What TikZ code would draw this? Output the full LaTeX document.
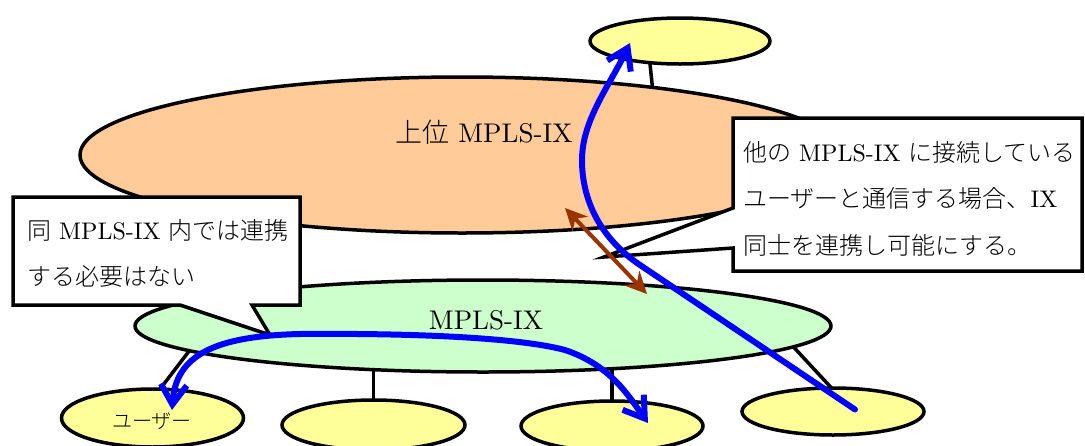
\documentclass[tikz,border=0pt]{standalone}
\usepackage{fontspec}
\setmainfont{lmroman10-regular.otf}
\newfontfamily\jp{Noto Sans CJK JP Light}
\usepackage{tikz}
\usetikzlibrary{positioning}
\usetikzlibrary{arrows.meta,shapes.geometric,backgrounds}

\definecolor{upperfill}{RGB}{255,204,153}
\definecolor{ixfill}{RGB}{204,255,204}
\definecolor{userfill}{RGB}{255,255,153}
\definecolor{relaybrown}{RGB}{153,51,0}

\tikzset{
	net/.style={ellipse, draw, line width=3.5pt, inner sep=0pt},
	user/.style={net, fill=userfill, minimum width=182pt, minimum height=50pt},
	link/.style={line width=3.5pt, shorten <=-8pt, shorten >=-8pt},
	note/.style={draw, fill=white, line width=3.5pt, line join=miter},
	notetext/.style={align=left, inner sep=0pt, font=\fontsize{24}{46.5}\selectfont},
	flow/.style={blue, line width=6pt, line cap=round},
	barb/.style={-{Straight Barb[length=20pt,width=26pt]}},
	relay/.style={relaybrown, line width=4pt, {Stealth[length=22pt,width=21pt]}-{Stealth[length=22pt,width=21pt]}},
}

\begin{document}
\begin{tikzpicture}[x=1pt,y=-1pt]
	\useasboundingbox (0,0) rectangle (1085,445);
	
	% ---------------------
	% IX clouds
	\node[net, fill=userfill, minimum width=180pt, minimum height=46pt] (top) at (680,41) {};
	\node[net, fill=upperfill, minimum width=764pt, minimum height=156pt] (upper) at (462,155) {};
	\node[net, fill=ixfill, minimum width=696pt, minimum height=92pt] (ix) at (483,326) {};
	
	% ---------------------
	% Users
	\node[user, minimum height=58pt] (u1) at (152.5,418) {};
	\node[user, minimum width=183pt] (u2) at (373.5,425) {};
	\node[user] (u3) at (612,426) {};
	\node[user, minimum height=47pt] (u4) at (833,411.5) {};
	
	% ---------------------
	% Links
	\begin{scope}[on background layer]
		\draw[link] (top.218) -- (upper.20);
		\draw[link] (ix.185) -- (u1.74);
		\draw[link] (u2.center) -- (u2.center |- ix.center);
		\draw[link] (u3.center) -- (u3.center |- ix.center);
		\draw[link] (ix.-4) -- (u4.97);
	\end{scope}
	
	% ---------------------
	% Callouts
	\coordinate (SameTip) at (270,335);
	\draw[note] (13,197) -- (300,197) -- (300,305) -- (252,305) -- (SameTip)
		-- (180,305) -- (13,305) -- cycle;
	
	\coordinate (RelayTip) at (604,257);
	\draw[note] (733,118) -- (1082,118) -- (1082,271) -- (733,271) -- (733,248)
		-- (RelayTip) -- (733,208) -- cycle;
	
	% ---------------------
	% Texts
	\node[font=\fontsize{27}{27}\selectfont] (upperlabel) at (484,132) {{\jp 上位} MPLS-IX};
	\node[font=\fontsize{27}{27}\selectfont] (ixlabel) at (486,320) {MPLS-IX};
	\node[font=\fontsize{20}{20}\selectfont\jp] (userlabel) at (152,421) {ユーザー};
	
	\node[notetext, anchor=west] (samenote) at (27,253.5)
		{{\jp 同} MPLS-IX {\jp 内では連携}\\{\jp する必要はない}};
	\node[notetext, anchor=west] (relaynote) at (743,198.5)
		{{\jp 他の} MPLS-IX {\jp に接続している}\\{\jp ユーザーと通信する場合、}IX\\{\jp 同士を連携し可能にする。}};
	
	% ---------------------
	% Traffic
	\path (u4) +(22,-2) coordinate (FlowStart);
	\path (top) +(-50,2) coordinate (FlowEnd);
	\draw[flow, barb] (FlowStart) -- (640,265)
		.. controls (600,238) and (582,200) .. (582,160)
		.. controls (582,120) and (610,85) .. (FlowEnd);
	
	\path (u1) +(19.5,-8) coordinate (LocalA);
	\path (u3) +(36,-3) coordinate (LocalB);
	\draw[flow, {Straight Barb[length=20pt,width=26pt]}-{Straight Barb[length=20pt,width=26pt]}] (LocalA)
		.. controls (176,355) and (215,336) .. (300,334)
		.. controls (420,333) and (520,338) .. (565,350)
		.. controls (610,365) and (628,395) .. (LocalB);
	
	\coordinate (RelayA) at (565,208);
	\coordinate (RelayB) at (647,294);
	\draw[relay] (RelayA) -- (RelayB);
	
\end{tikzpicture}
\end{document}
